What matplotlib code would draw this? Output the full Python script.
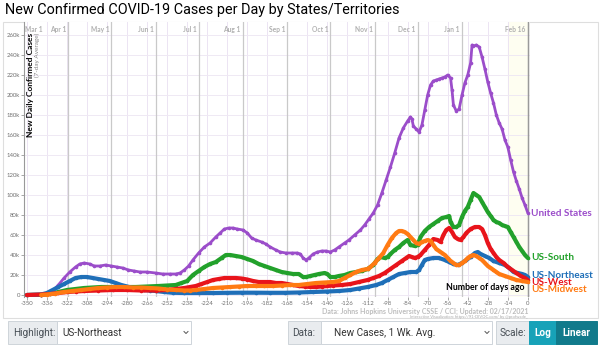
import matplotlib
matplotlib.use("Agg")
import matplotlib.pyplot as plt
from matplotlib.patches import Rectangle
from matplotlib.lines import Line2D
import matplotlib.transforms as mtransforms

# ---- data: new daily cases (7-day average), keyed by days before Feb 16, 2021 ----
us_days = [-350, -340, -336, -332, -328, -324, -320, -316, -313, -310, -306, -303, -299, -295,
           -291, -287, -283, -279, -275, -271, -266, -260, -255, -250, -246, -243, -240, -237,
           -234, -230, -226, -222, -218, -215, -212, -209, -206, -203, -199, -196, -193, -190,
           -186, -183, -180, -176, -173, -169, -165, -161, -159, -157, -155, -153, -150, -147,
           -144, -141, -138, -135, -132, -128, -125, -121, -117, -114, -111, -108, -105, -102,
           -99, -96, -93, -90, -87, -84, -82, -81, -80, -78, -76, -74, -72, -70, -68, -66, -64,
           -62, -60, -58, -56, -54, -53, -52, -50, -48, -46, -44, -42, -40, -39, -38, -36, -34,
           -32, -30, -28, -26, -24, -22, -20, -18, -16, -14, -12, -10, -8, -6, -4, -2, 0]
us_vals = [0, 0.3, 1, 4, 10, 17, 23, 28, 31, 32, 31, 29, 29, 30,
           29, 28, 27, 25, 24, 23, 23, 22, 21, 21, 21, 22, 25, 29,
           35, 42, 48, 52, 58, 62, 66, 67, 67, 66, 65, 62, 57, 55,
           53, 51, 48, 45, 43, 42, 42, 42, 41, 37, 35, 37, 41, 43,
           44, 44, 43, 45, 48, 52, 55, 60, 65, 70, 76, 82, 90, 102,
           115, 128, 142, 157, 167, 174, 178, 176, 169, 166, 163, 170, 185, 200, 210, 214, 215,
           216, 217, 218, 220, 217, 205, 190, 184, 186, 200, 212, 220, 232, 250, 249, 250, 248,
           238, 226, 213, 202, 192, 180, 172, 166, 155, 148, 135, 123, 114, 106, 97, 90, 82]

south_days = [-350, -340, -334, -328, -322, -316, -310, -304, -298, -290, -282, -274, -266, -258,
              -252, -246, -242, -238, -234, -230, -226, -222, -218, -214, -211, -208, -204, -200,
              -196, -192, -188, -184, -180, -176, -172, -168, -164, -160, -157, -155, -152, -149,
              -146, -142, -140, -138, -135, -132, -128, -124, -120, -116, -112, -108, -105, -103,
              -100, -98, -96, -93, -90, -87, -84, -82, -79, -77, -75, -72, -69, -66, -63, -60,
              -57, -55, -54, -52, -50, -48, -46, -44, -42, -40, -38, -36, -34, -32, -30, -28,
              -26, -24, -22, -20, -18, -16, -14, -12, -10, -8, -6, -4, -2, 0]
south_vals = [0, 0.2, 1, 3, 5, 6, 7, 7.5, 8, 8, 8, 8, 8.5, 9,
              9.5, 10, 12, 14, 20, 24, 28, 31, 33, 37, 40, 40, 39, 38,
              36, 34, 31, 29, 27, 25, 23, 22, 21, 21, 18, 18, 19, 20,
              21, 22, 21, 18, 18, 19, 20, 22, 23, 24, 26, 30, 36, 38,
              37, 38, 41, 45, 48, 52, 55, 50, 49, 50, 58, 64, 68, 71, 74, 77,
              78, 79, 73, 68, 68, 70, 78, 84, 88, 95, 102, 100, 98, 93, 88, 83,
              79, 75, 73, 72, 70, 69, 68, 63, 58, 53, 48, 44, 40, 37]

northeast_days = [-350, -340, -336, -332, -328, -324, -320, -316, -312, -308, -304, -300, -296,
                  -292, -288, -284, -280, -276, -272, -268, -264, -260, -254, -248, -240, -230,
                  -220, -210, -200, -190, -180, -170, -160, -150, -140, -132, -124, -118, -112,
                  -106, -102, -98, -94, -90, -86, -82, -78, -76, -74, -72, -70, -66, -62, -58,
                  -55, -52, -49, -46, -43, -40, -37, -35, -33, -30, -27, -24, -20, -16, -13,
                  -10, -7, -4, -2, 0]
northeast_vals = [0, 0.5, 2, 5, 8, 11, 14, 17, 18, 18, 17, 16, 15,
                  14, 12, 10, 8.5, 7, 6, 5, 4.5, 4, 3, 2.2, 2, 2,
                  2, 2.2, 2.3, 2.3, 2.2, 2.2, 2.5, 3, 3.5, 4, 5, 6.5, 8,
                  10, 12, 15, 18, 21, 22, 23, 23, 25, 30, 35, 36, 37, 37, 35,
                  33, 31, 30, 32, 35, 38, 42, 43, 41, 39, 37, 34, 32, 30, 27,
                  23, 22, 21, 20, 18]

west_days = [-350, -340, -334, -328, -322, -316, -310, -300, -290, -280, -270, -260, -252, -246,
             -240, -236, -232, -228, -224, -220, -216, -212, -208, -204, -200, -196, -192, -188,
             -184, -180, -176, -172, -168, -164, -160, -156, -152, -148, -144, -140, -136, -130,
             -124, -118, -112, -108, -104, -100, -96, -92, -88, -85, -83, -81, -79, -77, -75,
             -72, -69, -66, -63, -61, -59, -57, -55, -53, -51, -49, -47, -45, -43, -40, -37,
             -34, -32, -30, -28, -26, -24, -22, -20, -17, -14, -11, -8, -5, -2, 0]
west_vals = [0, 0.5, 1, 2, 3, 3.5, 4, 4.5, 5, 5, 4.5, 4.5, 5, 6,
             7, 8, 9, 11, 13, 15, 16, 17, 17, 17, 16.5, 15.5, 14, 13,
             13, 13, 12, 12, 11, 10, 9, 8.5, 8, 8, 8.5, 9, 9.5, 10,
             11, 13, 15, 17, 19, 22, 26, 30, 34, 37, 39, 38, 37, 38, 40,
             45, 50, 56, 55, 53, 60, 65, 67, 63, 58, 56, 55, 58, 62, 66, 68,
             68, 66, 60, 52, 46, 42, 38, 35, 32, 28, 25, 22, 19, 17, 15]

midwest_days = [-340, -336, -330, -324, -318, -312, -306, -300, -294, -288, -282, -276, -270,
                -264, -258, -252, -246, -240, -236, -232, -226, -220, -214, -208, -202, -196,
                -190, -184, -178, -172, -166, -160, -154, -148, -142, -136, -132, -128, -124,
                -120, -116, -112, -110, -107, -104, -101, -98, -95, -92, -90, -88, -86, -84,
                -82, -80, -78, -76, -74, -72, -70, -68, -66, -64, -62, -60, -58, -56, -54,
                -52, -50, -48, -46, -44, -42, -40, -38, -36, -34, -32, -30, -28, -26, -24,
                -22, -20, -16, -12, -8, -4, 0]
midwest_vals = [0, 0.5, 1.5, 3, 4, 5, 6, 7, 7.5, 8, 8, 7.5, 7.5,
                7, 6.5, 5.5, 5, 4.5, 4.5, 5, 6, 7, 7.5, 8, 8.5, 9,
                9, 9, 9, 9.5, 10, 10, 11, 12, 12.5, 13, 14, 17, 20,
                23, 25, 26, 28, 32, 37, 42, 50, 57, 62, 64, 64, 63, 61,
                58, 55, 52, 51, 53, 54, 55, 54, 50, 46, 44, 42, 40, 37, 34,
                32, 30, 30, 32, 34, 37, 39, 40, 39, 37, 35, 32, 29, 27, 25,
                23, 21, 19, 17, 15, 14, 13]

series_names = ["United States", "US-South", "US-Northeast", "US-West", "US-Midwest"]
series_colors = ["#9b4dca", "#22a12b", "#1f6fb8", "#e8141b", "#ff7a12"]

month_labels = ["Mar 1", "Apr 1", "May 1", "Jun 1", "Jul 1", "Aug 1", "Sep 1",
                "Oct 1", "Nov 1", "Dec 1", "Jan 1", "Feb 16"]
month_days = [-352, -321, -291, -260, -230, -199, -168, -138, -107, -77, -46, 0]
x_ticks = list(range(-350, 1, 14))
y_ticks = list(range(0, 260001, 20000))

W, H = 600, 346


def fx(px):
    return px / W


def fy(py):
    return 1 - py / H


fig = plt.figure(figsize=(W / 100, H / 100), dpi=100)
fig.patch.set_facecolor("white")

# outer panel frame
fig.add_artist(Rectangle((fx(3), fy(318)), fx(595), (318 - 22) / H, transform=fig.transFigure,
                         facecolor="white", edgecolor="#dedede", linewidth=0.8, zorder=0))

ax = fig.add_axes([fx(24), fy(297), fx(530 - 24), (297 - 22) / H])
ax.set_facecolor("white")
ax.set_xlim(-352, 1.5)
ax.set_ylim(-2000, 273000)

# last-two-weeks shading
ax.axvspan(-14, 0, color="#fefef1", zorder=0)

# grid: light lines per tick, darker lines at month starts
for d in x_ticks:
    ax.axvline(d, color="#ece4f3", linewidth=0.7, zorder=0.5)
for v in y_ticks:
    ax.axhline(v, color="#efe9f4", linewidth=0.7, zorder=0.5)
for d in month_days[1:]:
    ax.axvline(d, color="#c9c9c9", linewidth=0.9, zorder=0.6)

blend = mtransforms.blended_transform_factory(ax.transData, ax.transAxes)
for lab, d in zip(month_labels, month_days):
    if lab == "Mar 1":
        ax.text(d + 1, 0.985, lab, transform=blend, ha="left", va="top",
                fontsize=4.8, color="#b0b0b0", family="Lato", fontweight="bold")
    else:
        ax.text(d - 1.5, 0.985, lab, transform=blend, ha="right", va="top",
                fontsize=4.8, color="#b0b0b0", family="Lato", fontweight="bold")

all_days = [us_days, south_days, northeast_days, west_days, midwest_days]
all_vals = [us_vals, south_vals, northeast_vals, west_vals, midwest_vals]
zorders = [3, 4, 5, 6, 7]
for name, color, days, vals, z in zip(series_names, series_colors, all_days, all_vals, zorders):
    yv = [v * 1000 for v in vals]
    lw = 2.0 if name == "United States" else 3.0
    ax.plot(days, yv, color=color, linewidth=lw, marker="o", markersize=2.6,
            markeredgewidth=0, zorder=z, solid_capstyle="round")

# end-of-line labels (the three smaller regions sit close together)
label_y = {"United States": 82000, "US-South": 37000, "US-Northeast": 20000,
           "US-West": 12800, "US-Midwest": 5800}
for name, color in zip(series_names, series_colors):
    ax.text(2.5, label_y[name], name, color=color, fontsize=7.2, fontweight="bold",
            family="Lato", ha="left", va="center", clip_on=False)

ax.set_xticks(x_ticks)
ax.set_xticklabels([str(t) for t in x_ticks])
ax.set_yticks(y_ticks)
ax.set_yticklabels(["0" if v == 0 else f"{v // 1000}k" for v in y_ticks])
ax.tick_params(axis="both", labelsize=4.3, colors="#999999", length=2.0, width=0.6,
               pad=1.0)
for lbl in ax.get_xticklabels() + ax.get_yticklabels():
    lbl.set_color("#707070")
    lbl.set_family("Lato")

for side in ["top", "right", "bottom"]:
    ax.spines[side].set_visible(False)
ax.spines["left"].set_color("#999999")
ax.spines["left"].set_linewidth(0.8)
ax.axvline(0, color="#9a9a9a", linewidth=1.0, zorder=1)

# axis titles
fig.text(fx(30.5), fy(33), "New Daily Confirmed Cases", rotation=90, ha="center", va="top",
         fontsize=6.0, fontweight="bold", family="Lato", color="black")
fig.text(fx(37.5), fy(33), "(7-day Average)", rotation=90, ha="center", va="top",
         fontsize=4.6, family="Lato", color="#888888")
fig.text(fx(524), fy(288), "Number of days ago", ha="right", va="center",
         fontsize=6.3, fontweight="bold", family="Lato", color="black")

# title and credits
fig.text(fx(5), fy(10), "New Confirmed COVID-19 Cases per Day by States/Territories",
         ha="left", va="center", fontsize=10.4, family="Roboto", color="black")
fig.text(fx(528), fy(311.5), "Data: Johns Hopkins University CSSE / CCI; Updated: 02/17/2021",
         ha="right", va="center", fontsize=5.0, fontweight="bold", family="Lato",
         color="#bcbcbc")
fig.text(fx(528), fy(317), "Interactive Visualization: https://91-DIVOC.com/ by @profwade_",
         ha="right", va="center", fontsize=3.0, family="Lato", color="#aaaaaa")

# control bar below the chart
row_top, row_bot = 321, 344


def box(x0, x1, face, edge="#ced4da"):
    fig.add_artist(Rectangle((fx(x0), fy(row_bot)), fx(x1 - x0), (row_bot - row_top) / H,
                             transform=fig.transFigure, facecolor=face, edgecolor=edge,
                             linewidth=0.7))


def chevron(xc):
    yc = (row_top + row_bot) / 2
    fig.add_artist(Line2D([fx(xc - 2), fx(xc), fx(xc + 2)], [fy(yc - 1), fy(yc + 1), fy(yc - 1)],
                          transform=fig.transFigure, color="#555555", linewidth=0.7))


ymid = fy((row_top + row_bot) / 2)
box(8, 57, "#e9ecef")
box(57, 191, "white")
fig.text(fx(13), ymid, "Highlight:", ha="left", va="center", fontsize=7.2,
         family="Roboto", color="#495057")
fig.text(fx(62), ymid, "US-Northeast", ha="left", va="center", fontsize=7.2,
         family="Roboto", color="#333333")
chevron(186)

box(288, 321, "#e9ecef")
box(321, 492, "white")
fig.text(fx(292), ymid, "Data:", ha="left", va="center", fontsize=7.2,
         family="Roboto", color="#495057")
fig.text(fx(334), ymid, "New Cases, 1 Wk. Avg.", ha="left", va="center", fontsize=7.2,
         family="Roboto", color="#333333")
chevron(487)

box(496, 529, "#e9ecef")
fig.text(fx(500), ymid, "Scale:", ha="left", va="center", fontsize=7.2,
         family="Roboto", color="#495057")
box(529, 556, "#17a2b8", edge="#17a2b8")
box(556, 597, "#117a8b", edge="#117a8b")
fig.text(fx(542.5), ymid, "Log", ha="center", va="center", fontsize=7.2,
         family="Roboto", fontweight="bold", color="white")
fig.text(fx(576.5), ymid, "Linear", ha="center", va="center", fontsize=7.2,
         family="Roboto", fontweight="bold", color="white")

fig.savefig("out.png", dpi=100, facecolor="white")
